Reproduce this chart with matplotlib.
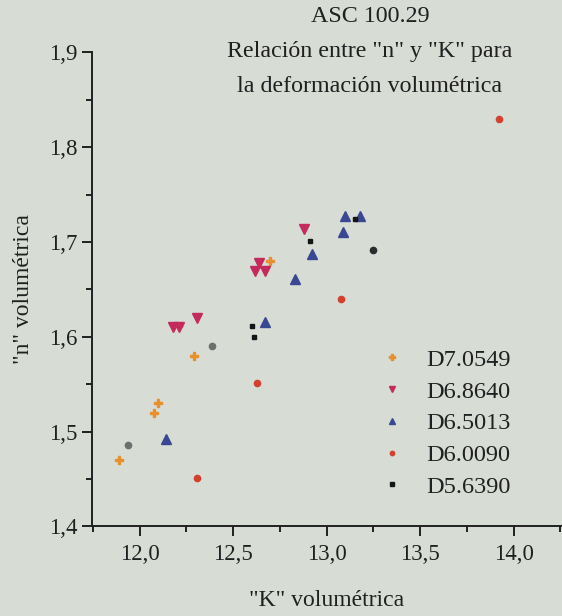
import matplotlib
matplotlib.use('Agg')
import matplotlib.pyplot as plt
from matplotlib.ticker import MultipleLocator, FuncFormatter

# "K" and "n" values for each specimen, volumetric deformation
k_d70549 = [11.89, 12.08, 12.10, 12.29, 12.70]
n_d70549 = [1.47, 1.52, 1.53, 1.58, 1.68]

k_d68640 = [12.18, 12.21, 12.31, 12.62, 12.64, 12.67, 12.88]
n_d68640 = [1.61, 1.61, 1.62, 1.669, 1.678, 1.669, 1.714]

k_d65013 = [12.14, 12.67, 12.83, 12.92, 13.09, 13.10, 13.18]
n_d65013 = [1.492, 1.615, 1.661, 1.687, 1.71, 1.727, 1.727]

k_d60090 = [12.31, 12.63, 13.08, 13.92]
n_d60090 = [1.451, 1.551, 1.64, 1.83]

k_d56390 = [12.60, 12.61, 12.91, 13.15]
n_d56390 = [1.611, 1.60, 1.701, 1.724]

# extra points without legend entry
k_grey = [11.94, 12.39]
n_grey = [1.486, 1.59]
k_dark = [13.25]
n_dark = [1.691]

labels = ['D7.0549', 'D6.8640', 'D6.5013', 'D6.0090', 'D5.6390']

BG = '#d7ddd5'
INK = '#202020'
plt.rcParams['font.family'] = ['Liberation Serif', 'DejaVu Serif']

W, H = 562, 616
fig = plt.figure(figsize=(W / 100, H / 100), dpi=100, facecolor=BG)
x0, x1, y0, y1 = 91.7, 562, 52.3, 526.3
ax = fig.add_axes([x0 / W, 1 - y1 / H, (x1 - x0) / W, (y1 - y0) / H])
ax.set_facecolor(BG)

ax.plot(k_d70549, n_d70549, ls='none', marker='P', ms=5.5, color='#e8902c', label=labels[0])
ax.plot(k_d68640, n_d68640, ls='none', marker='v', ms=6.8, color='#c42a5c', label=labels[1])
ax.plot(k_d65013, n_d65013, ls='none', marker='^', ms=6.8, color='#3a4894', label=labels[2])
ax.plot(k_d60090, n_d60090, ls='none', marker='o', ms=4.5, color='#d4402f', label=labels[3])
ax.plot(k_d56390, n_d56390, ls='none', marker='s', ms=3.5, color='#151515', label=labels[4])
ax.plot(k_grey, n_grey, ls='none', marker='o', ms=4.5, color='#6e6e6e')
ax.plot(k_dark, n_dark, ls='none', marker='o', ms=4.5, color='#2c2c2c')

left = 12 - (139.5 - x0) / 187
ax.set_xlim(left, left + (x1 - x0) / 187)
ax.set_ylim(1.4, 1.9)

for s in ['top', 'right']:
  ax.spines[s].set_visible(False)
for s in ['left', 'bottom']:
  ax.spines[s].set_linewidth(1.4)
  ax.spines[s].set_color(INK)

fmt = FuncFormatter(lambda v, _: f'{v:.1f}'.replace('.', ','))
ax.xaxis.set_major_locator(MultipleLocator(0.5))
ax.xaxis.set_minor_locator(MultipleLocator(0.25))
ax.yaxis.set_major_locator(MultipleLocator(0.1))
ax.yaxis.set_minor_locator(MultipleLocator(0.05))
ax.xaxis.set_major_formatter(fmt)
ax.yaxis.set_major_formatter(fmt)
ax.tick_params(which='major', direction='out', length=7, width=1.4, color=INK,
               labelsize=16.5, labelcolor=INK)
ax.tick_params(axis='y', which='major', pad=3)
ax.tick_params(axis='x', which='major', pad=6)
ax.tick_params(which='minor', direction='out', length=4, width=1.4, color=INK)

ax.set_xlabel('"K" volumétrica', fontsize=17, color=INK, labelpad=18)
ax.set_ylabel('"n" volumétrica', fontsize=17, color=INK, labelpad=11)

title_lines = ['ASC 100.29', 'Relación entre "n" y "K" para', 'la deformación volumétrica']
for line, ty in zip(title_lines, [17, 51, 86]):
  fig.text(370 / W, 1 - ty / H, line, ha='center', va='center', fontsize=17.3, color=INK)

ax.legend(loc='upper left', bbox_to_anchor=(358 / W, 1 - 327 / H), bbox_transform=fig.transFigure,
          frameon=False, fontsize=17.5, markerscale=0.7, handlelength=1.0, handletextpad=0.9,
          labelspacing=0.4, labelcolor=INK)

fig.savefig('out.png', dpi=100, facecolor=BG)
